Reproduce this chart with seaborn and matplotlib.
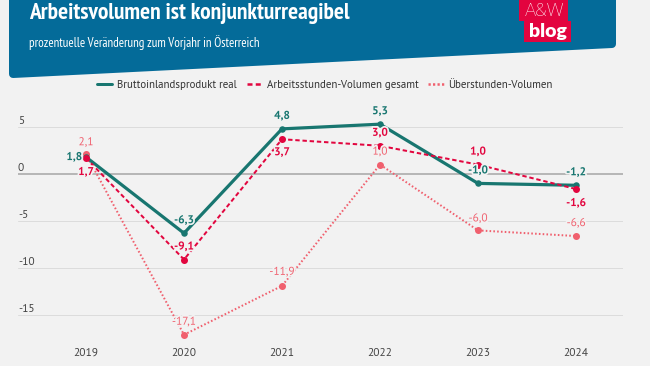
import numpy as np
import pandas as pd
import matplotlib
matplotlib.use("Agg")
import matplotlib.pyplot as plt
import seaborn as sns
from matplotlib.patches import Polygon, Rectangle
from matplotlib.lines import Line2D
import matplotlib.patheffects as pe

# ---------------- data ----------------
years = [2019, 2020, 2021, 2022, 2023, 2024]
bip = [1.8, -6.3, 4.8, 5.3, -1.0, -1.2]
arbeitsstunden = [1.7, -9.1, 3.7, 3.0, 1.0, -1.6]
ueberstunden = [2.1, -17.1, -11.9, 1.0, -6.0, -6.6]
series_names = ["Bruttoinlandsprodukt real", "Arbeitsstunden-Volumen gesamt", "Überstunden-Volumen"]
y_ticks = [5, 0, -5, -10, -15]
title = "Arbeitsvolumen ist konjunkturreagibel"
subtitle = "prozentuelle Veränderung zum Vorjahr in Österreich"

# label placement (pixel offsets, style only)
bip_pos = [("left", 0), ("up", 13), ("up", 13), ("up", 13), ("up", 13), ("up", 13)]
arb_pos = [("down", -14), ("up", 13), ("down", -13), ("up", 13), ("up", 13), ("down", -14)]
ueb_pos = [("up", 12), ("up", 13), ("up", 14), ("up", 13), ("up", 12), ("up", 13)]

# ---------------- style ----------------
BG = "#f2f2f2"
TEAL = "#187670"
RED = "#e2063f"
PINK = "#f0606e"
BLUE = "#046b99"
LOGO = "#e3043f"
GRID = "#dcdcdc"
TXT = "#444444"

sns.set_theme(style="white")
NARROW = ["PT Sans Narrow", "Liberation Sans"]
SANS = ["PT Sans", "Liberation Sans"]
plt.rcParams["font.family"] = SANS

W, H = 650, 366
DPI = 100
fig = plt.figure(figsize=(W / DPI, H / DPI), dpi=DPI, facecolor=BG)


def fx(x):
    return x / W


def fy(y):
    return 1 - y / H


def PT(px):
    return px * 72 / DPI


# axes placement
ax_left, ax_right = 18, 623
ax_top, ax_bottom = 100, 342
ax = fig.add_axes([fx(ax_left), fy(ax_bottom), (ax_right - ax_left) / W, (ax_bottom - ax_top) / H])
ax.set_facecolor(BG)
px_per_unit = 9.4
y0 = 174
ax.set_ylim(-(ax_bottom - y0) / px_per_unit, (y0 - ax_top) / px_per_unit)
x_step = 98
ax.set_xlim(2019 - (86 - ax_left) / x_step, 2024 + (ax_right - 576) / x_step)

for s in ax.spines.values():
    s.set_visible(False)

FS = 8.2
# grid lines
for t in y_ticks:
    if t == 0:
        ax.axhline(0, color="#a9a9a9", lw=PT(1.6), zorder=1)
    else:
        ax.axhline(t, color=GRID, lw=PT(1.0), zorder=1)
    ax.annotate(str(t), xy=(0, t), xycoords=("axes fraction", "data"),
                xytext=(0, PT(6.5)), textcoords="offset points",
                ha="left", va="center", fontsize=FS, color=TXT)
ax.set_yticks([])

ax.set_xticks(years)
ax.set_xticklabels([str(y) for y in years], fontsize=FS, color=TXT)
ax.tick_params(axis="x", length=0, pad=PT(6))

df = pd.DataFrame({"Jahr": years, "bip": bip, "arb": arbeitsstunden, "ueb": ueberstunden})

sns.lineplot(data=df, x="Jahr", y="bip", ax=ax, color=TEAL, lw=PT(3.2), marker="o",
             markersize=PT(6.5), markeredgewidth=0, zorder=3, clip_on=False)
sns.lineplot(data=df, x="Jahr", y="arb", ax=ax, color=RED, lw=PT(2.0), linestyle=(0, (2.2, 1.4)),
             marker="o", markersize=PT(7), markeredgewidth=0, zorder=4, clip_on=False)
sns.lineplot(data=df, x="Jahr", y="ueb", ax=ax, color=PINK, lw=PT(2.0), linestyle=(0, (0.8, 1.1)),
             marker="o", markersize=PT(7), markeredgewidth=0, zorder=2, clip_on=False)
ax.set_xlabel("")
ax.set_ylabel("")


def fmt(v):
    return f"{v:.1f}".replace(".", ",")


halo = [pe.withStroke(linewidth=2.5, foreground=BG)]


def label_series(vals, pos, color, weight):
    for x, v, (kind, d) in zip(years, vals, pos):
        if kind == "left":
            ax.annotate(fmt(v), xy=(x, v), xytext=(PT(-4), PT(d)), textcoords="offset points",
                        ha="right", va="center", fontsize=FS, color=color, fontweight=weight,
                        path_effects=halo, zorder=6)
        else:
            ax.annotate(fmt(v), xy=(x, v), xytext=(0, PT(d)), textcoords="offset points",
                        ha="center", va="center", fontsize=FS, color=color, fontweight=weight,
                        path_effects=halo, zorder=6)


label_series(ueberstunden, ueb_pos, PINK, "normal")
label_series(arbeitsstunden, arb_pos, RED, "bold")
label_series(bip, bip_pos, TEAL, "bold")

# legend
handles = [
    Line2D([], [], color=TEAL, lw=PT(3)),
    Line2D([], [], color=RED, lw=PT(2.5), linestyle=(0, (2, 1.3))),
    Line2D([], [], color=PINK, lw=PT(2.5), linestyle=(0, (0.9, 0.9))),
]
leg = fig.legend(handles, series_names, loc="center", bbox_to_anchor=(fx(325), fy(85)),
                 ncol=3, frameon=False, fontsize=7.8, handlelength=1.4, handletextpad=0.45,
                 columnspacing=0.9, labelcolor="#333333")

# header banner
banner = Polygon([(fx(13), fy(-10)), (fx(612), fy(-10)), (fx(612), fy(44)), (fx(13), fy(74))],
                 closed=True, transform=fig.transFigure, facecolor=BLUE, edgecolor=BLUE,
                 lw=PT(8), joinstyle="round", zorder=0)
fig.add_artist(banner)
fig.text(fx(29), fy(14), title, color="white", fontsize=16.9, fontweight="bold",
         ha="left", va="center", family=NARROW)
fig.text(fx(29), fy(43), subtitle, color="white", fontsize=9.3,
         ha="left", va="center", family=NARROW)

# logo
fig.add_artist(Rectangle((fx(519), fy(21)), fx(49), 21 / H, transform=fig.transFigure,
                         facecolor=LOGO, edgecolor="none", zorder=1))
fig.add_artist(Rectangle((fx(524), fy(42)), fx(47), 21 / H, transform=fig.transFigure,
                         facecolor=LOGO, edgecolor="none", zorder=1))
fig.text(fx(545), fy(10.5), "A&W", color="white", fontsize=13.5, ha="center", va="center",
         family=["Roboto", "DejaVu Sans"], fontweight="light", zorder=2)
fig.text(fx(548), fy(31), "blog", color="white", fontsize=14, ha="center", va="center",
         family=["Lato", "DejaVu Sans"], fontweight="heavy", zorder=2)

fig.savefig("out.png", dpi=DPI, facecolor=BG)
